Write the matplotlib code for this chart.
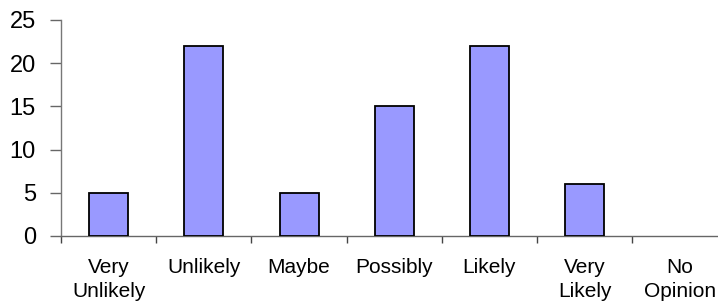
import numpy as np
import matplotlib.pyplot as plt
from matplotlib.ticker import FixedLocator

plt.rcParams['font.family'] = ['Liberation Sans', 'DejaVu Sans']

categories = ['Very\nUnlikely', 'Unlikely', 'Maybe', 'Possibly', 'Likely', 'Very\nLikely', 'No\nOpinion']
counts = [5, 22, 5, 15, 22, 6, 0]
y_ticks = [0, 5, 10, 15, 20, 25]

fig = plt.figure(figsize=(7.18, 3.07), dpi=100)
ax = fig.add_axes([61 / 718, 1 - 236 / 307, 1 - 61 / 718, (236 - 20) / 307])

x = np.arange(len(categories))
# empty categories get no outline, so nothing sits on the axis line
edge_widths = [1.3 if c > 0 else 0 for c in counts]
ax.bar(x, counts, width=0.41, color='#9999FF', edgecolor='black', linewidth=edge_widths, zorder=3)

ax.set_xlim(-0.5, 6.4)
ax.set_ylim(0, 25)

ax.set_yticks(y_ticks)
ax.set_yticklabels([str(v) for v in y_ticks], fontsize=17)
ax.tick_params(axis='y', direction='out', length=8, width=1, color='#666666', pad=10)

ax.set_xticks(x)
ax.set_xticklabels(categories, fontsize=15, linespacing=1.35, va='top')
ax.tick_params(axis='x', which='major', length=0, pad=16)
ax.xaxis.set_minor_locator(FixedLocator(np.arange(-0.5, 7, 1.0)))
ax.tick_params(axis='x', which='minor', direction='out', length=5, width=1, color='#444444')

for side in ['top', 'right']:
    ax.spines[side].set_visible(False)
ax.spines['left'].set_color('#777777')
ax.spines['bottom'].set_color('#666666')
ax.spines['left'].set_linewidth(1)
ax.spines['bottom'].set_linewidth(1)

fig.savefig('out.png', dpi=100)
